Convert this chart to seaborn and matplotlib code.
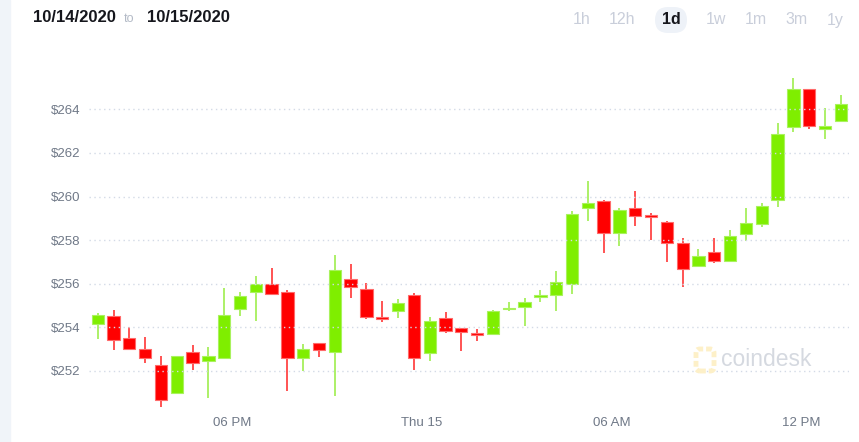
import numpy as np
import matplotlib.pyplot as plt
import seaborn as sns
from matplotlib.patches import Rectangle, FancyBboxPatch

# 30 minute candles, 10/14 ~1:30 PM -> 10/15 ~1 PM
opens = [254.14, 254.52, 253.52, 253.00, 252.26, 251.00, 252.85, 252.45,
         252.58, 254.84, 255.63, 255.99, 255.63, 252.61, 253.27, 252.88,
         256.20, 255.77, 254.49, 254.75, 255.48, 252.81, 254.44, 253.95,
         253.74, 253.68, 254.83, 254.95, 255.40, 255.48, 255.99, 259.46,
         259.79, 258.34, 259.46, 259.11, 258.84, 257.85, 256.83, 257.44,
         257.05, 258.28, 258.72, 259.84, 263.17, 264.92, 263.10, 263.46]
highs = [254.64, 254.79, 254.03, 253.57, 252.68, 252.70, 253.17, 253.08,
         255.79, 255.60, 256.35, 256.73, 255.71, 253.23, 253.27, 257.32,
         256.89, 256.02, 255.21, 255.30, 255.59, 254.49, 254.72, 253.95,
         253.92, 254.80, 255.15, 255.33, 255.71, 256.60, 259.33, 260.71,
         259.84, 259.49, 260.25, 259.26, 258.88, 258.08, 257.58, 258.08,
         258.46, 259.49, 259.69, 263.36, 265.45, 264.92, 264.07, 264.66]
lows = [253.46, 252.96, 252.99, 252.35, 250.33, 250.93, 252.04, 250.77,
        252.58, 254.52, 254.30, 255.51, 251.09, 252.00, 252.62, 250.85,
        255.33, 254.37, 254.23, 254.44, 252.04, 252.47, 253.72, 252.93,
        253.39, 253.68, 254.76, 254.07, 255.15, 254.76, 255.51, 258.89,
        257.39, 257.74, 258.66, 258.00, 257.01, 255.86, 256.78, 256.94,
        257.01, 257.97, 258.60, 259.53, 262.97, 263.10, 262.64, 263.46]
closes = [254.56, 253.42, 252.99, 252.58, 250.67, 252.70, 252.35, 252.67,
          254.56, 255.45, 255.97, 255.51, 252.58, 252.99, 252.94, 256.63,
          255.86, 254.46, 254.38, 255.13, 252.61, 254.29, 253.83, 253.80,
          253.66, 254.76, 254.90, 255.17, 255.48, 256.06, 259.18, 259.69,
          258.34, 259.38, 259.12, 259.05, 257.85, 256.66, 257.27, 257.04,
          258.20, 258.80, 259.58, 262.85, 264.92, 263.23, 263.23, 264.23]

price_ticks = [252, 254, 256, 258, 260, 262, 264]
time_tick_pos = [8.5, 20.5, 32.5, 44.5]
time_tick_labels = ["06 PM", "Thu 15", "06 AM", "12 PM"]
ranges = ["1h", "12h", "1d", "1w", "1m", "3m", "1y"]

sns.set_theme(style="white")
plt.rcParams['font.family'] = ['Liberation Sans', 'DejaVu Sans']

W, H = 859, 442
fig = plt.figure(figsize=(W / 100, H / 100), dpi=100)
fig.patch.set_facecolor("white")

# light strip on the left edge
fig.patches.append(Rectangle((0, 0), 10 / W, 1, transform=fig.transFigure,
                             color="#f0f4f9", zorder=0))

ax = fig.add_axes([89 / W, 32 / H, 760 / W, 350 / H])
ax.set_facecolor("none")

o = np.array(opens)
c = np.array(closes)
x = np.arange(len(o))
up = c >= o
body_col = np.where(up, "#7fee00", "#ff0000")
edge_col = np.where(up, "#a9f25e", "#ff6a6a")
wick_col = np.where(up, "#a6ef5c", "#ff4545")

ax.vlines(x, lows, highs, colors=wick_col, linewidth=1.3, zorder=1)
ax.bar(x, np.maximum(np.abs(c - o), 0.08), bottom=np.minimum(o, c), width=0.78,
       color=body_col, edgecolor=edge_col, linewidth=0.8, zorder=2)

ax.set_xlim(-0.55, 47.52)
ax.set_ylim(250.21, 266.26)
ax.set_yticks(price_ticks)
ax.set_yticklabels([f"${v}" for v in price_ticks])
ax.set_xticks(time_tick_pos)
ax.set_xticklabels(time_tick_labels)
ax.tick_params(axis="both", length=0, labelsize=9.5, colors="#6f7887")
ax.tick_params(axis="y", pad=6)
ax.tick_params(axis="x", pad=5)
ax.yaxis.grid(True, linestyle=(0, (1, 2.5)), color="#d3dae6", linewidth=1)
ax.xaxis.grid(False)
ax.set_axisbelow(False)
sns.despine(ax=ax, left=True, bottom=True)

# header
fig.text(33 / W, 1 - 18 / H, "10/14/2020", fontsize=12, fontweight="bold",
         color="#15161c", va="center", ha="left")
fig.text(124 / W, 1 - 19 / H, "to", fontsize=9, color="#b3bac6",
         va="center", ha="left")
fig.text(147 / W, 1 - 18 / H, "10/15/2020", fontsize=12, fontweight="bold",
         color="#15161c", va="center", ha="left")

fig.patches.append(FancyBboxPatch((6.55, (H - 33) / 100), 0.32, 0.26,
                                  boxstyle="round,pad=0,rounding_size=0.13",
                                  transform=fig.dpi_scale_trans,
                                  facecolor="#eef2f8", edgecolor="none", zorder=0))
range_x = [582, 622, 671, 716, 756, 797, 835]
for lbl, px in zip(ranges, range_x):
    active = lbl == "1d"
    fig.text(px / W, 1 - 20 / H, lbl, fontsize=11.5,
             fontweight="bold" if active else "normal",
             color="#15161c" if active else "#c9ceda", va="center", ha="center")

# watermark
fig.patches.append(FancyBboxPatch((6.96, (H - 371) / 100), 0.18, 0.22,
                                  boxstyle="round,pad=0,rounding_size=0.04",
                                  transform=fig.dpi_scale_trans,
                                  facecolor="none", edgecolor="#fdf0c8",
                                  linewidth=3.5, linestyle=(0, (1.2, 0.6)), zorder=0))
fig.text(721 / W, 1 - 359 / H, "coindesk", fontsize=16.5, color="#d5d9e0",
         va="center", ha="left", zorder=0)

fig.savefig("out.png", dpi=100)
plt.close(fig)
